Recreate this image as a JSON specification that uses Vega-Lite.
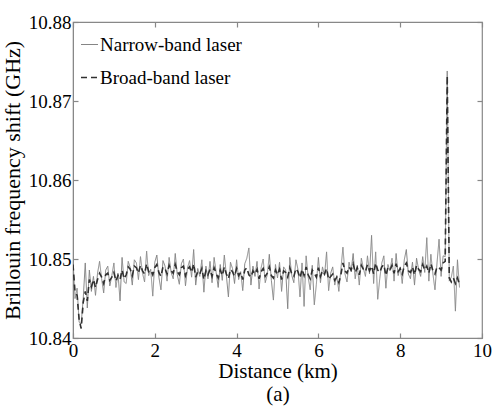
{
"$schema": "https://vega.github.io/schema/vega-lite/v6.json",
"width": 409,
"height": 316,
"autosize": "none",
"padding": {"left": 73, "top": 22, "right": 15, "bottom": 68},
"background": "white",
"config": {
  "font": "Times New Roman, Liberation Serif, serif",
  "view": {"stroke": "#888888", "strokeWidth": 1.2},
  "legend": {"labelFont": "Times New Roman, Liberation Serif, serif"},
  "axis": {"labelFont": "Times New Roman, Liberation Serif, serif", "titleFont": "Times New Roman, Liberation Serif, serif", "labelFontSize": 19, "titleFontSize": 21, "titleFontWeight": "normal", "labelColor": "black", "titleColor": "black", "domainColor": "#888888", "tickColor": "#888888", "tickSize": -5, "tickWidth": 1.2, "grid": false, "labelOverlap": false, "labelFlush": false}
},
"data": {"values": [
{"d":0.00,"n":10.8498,"b":10.8493},{"d":0.05,"n":10.8450,"b":10.8458},{"d":0.10,"n":10.8463,"b":10.8454},{"d":0.15,"n":10.8420,"b":10.8423},{"d":0.20,"n":10.8418,"b":10.8412},
{"d":0.25,"n":10.8450,"b":10.8445},{"d":0.30,"n":10.8495,"b":10.8459},{"d":0.35,"n":10.8438,"b":10.8447},{"d":0.40,"n":10.8486,"b":10.8474},{"d":0.45,"n":10.8459,"b":10.8465},
{"d":0.50,"n":10.8478,"b":10.8474},{"d":0.55,"n":10.8454,"b":10.8464},{"d":0.60,"n":10.8482,"b":10.8474},{"d":0.65,"n":10.8497,"b":10.8482},{"d":0.70,"n":10.8475,"b":10.8477},
{"d":0.75,"n":10.8457,"b":10.8469},{"d":0.80,"n":10.8486,"b":10.8480},{"d":0.85,"n":10.8491,"b":10.8482},{"d":0.90,"n":10.8466,"b":10.8473},{"d":0.95,"n":10.8479,"b":10.8477},
{"d":1.00,"n":10.8495,"b":10.8483},{"d":1.05,"n":10.8464,"b":10.8472},{"d":1.10,"n":10.8482,"b":10.8479},{"d":1.15,"n":10.8447,"b":10.8474},{"d":1.20,"n":10.8502,"b":10.8486},
{"d":1.25,"n":10.8471,"b":10.8475},{"d":1.30,"n":10.8469,"b":10.8480},{"d":1.35,"n":10.8497,"b":10.8490},{"d":1.40,"n":10.8489,"b":10.8487},{"d":1.45,"n":10.8467,"b":10.8479},
{"d":1.50,"n":10.8499,"b":10.8491},{"d":1.55,"n":10.8495,"b":10.8489},{"d":1.60,"n":10.8474,"b":10.8482},{"d":1.65,"n":10.8503,"b":10.8492},{"d":1.70,"n":10.8482,"b":10.8485},
{"d":1.75,"n":10.8471,"b":10.8481},{"d":1.80,"n":10.8510,"b":10.8494},{"d":1.85,"n":10.8479,"b":10.8484},{"d":1.90,"n":10.8487,"b":10.8486},{"d":1.95,"n":10.8453,"b":10.8480},
{"d":2.00,"n":10.8496,"b":10.8489},{"d":2.05,"n":10.8505,"b":10.8493},{"d":2.10,"n":10.8477,"b":10.8483},{"d":2.15,"n":10.8461,"b":10.8478},{"d":2.20,"n":10.8498,"b":10.8490},
{"d":2.25,"n":10.8491,"b":10.8488},{"d":2.30,"n":10.8472,"b":10.8481},{"d":2.35,"n":10.8502,"b":10.8492},{"d":2.40,"n":10.8483,"b":10.8485},{"d":2.45,"n":10.8475,"b":10.8482},
{"d":2.50,"n":10.8507,"b":10.8493},{"d":2.55,"n":10.8480,"b":10.8484},{"d":2.60,"n":10.8468,"b":10.8480},{"d":2.65,"n":10.8494,"b":10.8489},{"d":2.70,"n":10.8500,"b":10.8491},
{"d":2.75,"n":10.8466,"b":10.8479},{"d":2.80,"n":10.8489,"b":10.8487},{"d":2.85,"n":10.8498,"b":10.8490},{"d":2.90,"n":10.8477,"b":10.8483},{"d":2.95,"n":10.8512,"b":10.8494},
{"d":3.00,"n":10.8467,"b":10.8477},{"d":3.05,"n":10.8488,"b":10.8484},{"d":3.10,"n":10.8478,"b":10.8481},{"d":3.15,"n":10.8499,"b":10.8488},{"d":3.20,"n":10.8458,"b":10.8474},
{"d":3.25,"n":10.8491,"b":10.8485},{"d":3.30,"n":10.8475,"b":10.8480},{"d":3.35,"n":10.8497,"b":10.8487},{"d":3.40,"n":10.8470,"b":10.8478},{"d":3.45,"n":10.8502,"b":10.8489},
{"d":3.50,"n":10.8483,"b":10.8482},{"d":3.55,"n":10.8464,"b":10.8476},{"d":3.60,"n":10.8493,"b":10.8486},{"d":3.65,"n":10.8473,"b":10.8479},{"d":3.70,"n":10.8505,"b":10.8490},
{"d":3.75,"n":10.8479,"b":10.8481},{"d":3.80,"n":10.8452,"b":10.8475},{"d":3.85,"n":10.8496,"b":10.8487},{"d":3.90,"n":10.8488,"b":10.8484},{"d":3.95,"n":10.8469,"b":10.8478},
{"d":4.00,"n":10.8499,"b":10.8488},{"d":4.05,"n":10.8474,"b":10.8479},{"d":4.10,"n":10.8484,"b":10.8483},{"d":4.15,"n":10.8460,"b":10.8474},{"d":4.20,"n":10.8494,"b":10.8486},
{"d":4.25,"n":10.8501,"b":10.8489},{"d":4.30,"n":10.8514,"b":10.8480},{"d":4.35,"n":10.8467,"b":10.8477},{"d":4.40,"n":10.8491,"b":10.8485},{"d":4.45,"n":10.8478,"b":10.8481},
{"d":4.50,"n":10.8497,"b":10.8487},{"d":4.55,"n":10.8462,"b":10.8475},{"d":4.60,"n":10.8489,"b":10.8484},{"d":4.65,"n":10.8500,"b":10.8488},{"d":4.70,"n":10.8470,"b":10.8478},
{"d":4.75,"n":10.8480,"b":10.8482},{"d":4.80,"n":10.8506,"b":10.8490},{"d":4.85,"n":10.8473,"b":10.8479},{"d":4.90,"n":10.8448,"b":10.8476},{"d":4.95,"n":10.8493,"b":10.8486},
{"d":5.00,"n":10.8476,"b":10.8480},{"d":5.05,"n":10.8496,"b":10.8487},{"d":5.10,"n":10.8459,"b":10.8474},{"d":5.15,"n":10.8490,"b":10.8485},{"d":5.20,"n":10.8486,"b":10.8483},
{"d":5.25,"n":10.8437,"b":10.8477},{"d":5.30,"n":10.8502,"b":10.8489},{"d":5.35,"n":10.8479,"b":10.8481},{"d":5.40,"n":10.8470,"b":10.8478},{"d":5.45,"n":10.8499,"b":10.8488},
{"d":5.50,"n":10.8487,"b":10.8484},{"d":5.55,"n":10.8452,"b":10.8476},{"d":5.60,"n":10.8495,"b":10.8487},{"d":5.65,"n":10.8440,"b":10.8479},{"d":5.70,"n":10.8504,"b":10.8490},
{"d":5.75,"n":10.8477,"b":10.8480},{"d":5.80,"n":10.8461,"b":10.8475},{"d":5.85,"n":10.8492,"b":10.8486},{"d":5.90,"n":10.8442,"b":10.8482},{"d":5.95,"n":10.8468,"b":10.8477},
{"d":6.00,"n":10.8502,"b":10.8489},{"d":6.05,"n":10.8470,"b":10.8478},{"d":6.10,"n":10.8490,"b":10.8485},{"d":6.15,"n":10.8479,"b":10.8481},{"d":6.20,"n":10.8509,"b":10.8488},
{"d":6.25,"n":10.8460,"b":10.8474},{"d":6.30,"n":10.8482,"b":10.8478},{"d":6.35,"n":10.8490,"b":10.8481},{"d":6.40,"n":10.8467,"b":10.8473},{"d":6.45,"n":10.8479,"b":10.8477},
{"d":6.50,"n":10.8459,"b":10.8470},{"d":6.55,"n":10.8487,"b":10.8480},{"d":6.60,"n":10.8515,"b":10.8495},{"d":6.65,"n":10.8481,"b":10.8485},{"d":6.70,"n":10.8471,"b":10.8482},
{"d":6.75,"n":10.8496,"b":10.8490},{"d":6.80,"n":10.8484,"b":10.8486},{"d":6.85,"n":10.8507,"b":10.8494},{"d":6.90,"n":10.8475,"b":10.8483},{"d":6.95,"n":10.8492,"b":10.8489},
{"d":7.00,"n":10.8467,"b":10.8480},{"d":7.05,"n":10.8501,"b":10.8492},{"d":7.10,"n":10.8488,"b":10.8487},{"d":7.15,"n":10.8478,"b":10.8484},{"d":7.20,"n":10.8504,"b":10.8493},
{"d":7.25,"n":10.8481,"b":10.8485},{"d":7.30,"n":10.8530,"b":10.8491},{"d":7.35,"n":10.8469,"b":10.8481},{"d":7.40,"n":10.8509,"b":10.8495},{"d":7.45,"n":10.8449,"b":10.8486},
{"d":7.50,"n":10.8475,"b":10.8483},{"d":7.55,"n":10.8495,"b":10.8490},{"d":7.60,"n":10.8504,"b":10.8493},{"d":7.65,"n":10.8463,"b":10.8479},{"d":7.70,"n":10.8493,"b":10.8489},
{"d":7.75,"n":10.8485,"b":10.8486},{"d":7.80,"n":10.8501,"b":10.8492},{"d":7.85,"n":10.8472,"b":10.8482},{"d":7.90,"n":10.8507,"b":10.8494},{"d":7.95,"n":10.8479,"b":10.8484},
{"d":8.00,"n":10.8490,"b":10.8488},{"d":8.05,"n":10.8469,"b":10.8481},{"d":8.10,"n":10.8499,"b":10.8491},{"d":8.15,"n":10.8512,"b":10.8495},{"d":8.20,"n":10.8481,"b":10.8485},
{"d":8.25,"n":10.8475,"b":10.8483},{"d":8.30,"n":10.8496,"b":10.8490},{"d":8.35,"n":10.8467,"b":10.8480},{"d":8.40,"n":10.8501,"b":10.8492},{"d":8.45,"n":10.8487,"b":10.8487},
{"d":8.50,"n":10.8478,"b":10.8484},{"d":8.55,"n":10.8503,"b":10.8493},{"d":8.60,"n":10.8483,"b":10.8486},{"d":8.65,"n":10.8527,"b":10.8491},{"d":8.70,"n":10.8472,"b":10.8482},
{"d":8.75,"n":10.8506,"b":10.8494},{"d":8.80,"n":10.8481,"b":10.8485},{"d":8.85,"n":10.8461,"b":10.8481},{"d":8.90,"n":10.8495,"b":10.8490},{"d":8.95,"n":10.8525,"b":10.8489},
{"d":9.00,"n":10.8478,"b":10.8486},{"d":9.05,"n":10.8504,"b":10.8495},{"d":9.10,"n":10.8503,"b":10.8497},{"d":9.15,"n":10.8738,"b":10.8732},{"d":9.20,"n":10.8472,"b":10.8476},
{"d":9.25,"n":10.8477,"b":10.8471},{"d":9.30,"n":10.8491,"b":10.8476},{"d":9.35,"n":10.8434,"b":10.8469},{"d":9.40,"n":10.8499,"b":10.8476},{"d":9.45,"n":10.8464,"b":10.8468}
]},
"transform": [{"fold": ["n", "b"], "as": ["series", "value"]}],
"layer": [
  {
    "mark": {"type": "line", "clip": true},
    "encoding": {
      "x": {"field": "d", "type": "quantitative", "scale": {"domain": [0, 10], "nice": false}, "axis": {"orient": "bottom", "values": [0, 2, 4, 6, 8, 10], "title": ["Distance (km)", "(a)"], "titlePadding": 0, "labelPadding": 8, "titleLineHeight": 23}},
      "y": {"field": "value", "type": "quantitative", "scale": {"domain": [10.84, 10.88], "nice": false, "zero": false}, "axis": {"orient": "left", "values": [10.84, 10.85, 10.86, 10.87, 10.88], "format": ".2f", "title": "Brillouin frequency shift (GHz)", "titleFontSize": 22, "labelPadding": 7, "titlePadding": 4}},
      "color": {"field": "series", "type": "nominal", "sort": ["n", "b"], "scale": {"domain": ["n", "b"], "range": ["#858585", "#303030"]},
        "legend": {"title": null, "orient": "none", "legendX": 7, "legendY": 13, "symbolType": "stroke", "symbolSize": 289, "labelFontSize": 19, "labelColor": "black", "labelOffset": 1, "rowPadding": 13, "padding": 0, "labelExpr": "datum.label == 'n' ? 'Narrow-band laser' : 'Broad-band laser'"}},
      "strokeDash": {"field": "series", "type": "nominal", "sort": ["n", "b"], "scale": {"domain": ["n", "b"], "range": [[1, 0], [6, 4]]}, "legend": {"title": null, "orient": "none", "legendX": 7, "legendY": 13, "symbolType": "stroke", "symbolSize": 289, "labelFontSize": 19, "labelOffset": 1, "rowPadding": 13, "padding": 0, "labelExpr": "datum.label == 'n' ? 'Narrow-band laser' : 'Broad-band laser'"}},
      "strokeWidth": {"field": "series", "type": "nominal", "sort": ["n", "b"], "scale": {"domain": ["n", "b"], "range": [1, 1.6]}, "legend": {"title": null, "orient": "none", "legendX": 7, "legendY": 13, "symbolType": "stroke", "symbolSize": 289, "labelFontSize": 19, "labelOffset": 1, "rowPadding": 13, "padding": 0, "labelExpr": "datum.label == 'n' ? 'Narrow-band laser' : 'Broad-band laser'"}}
    }
  },
  {
    "mark": {"type": "line", "opacity": 0},
    "encoding": {
      "x": {"field": "d", "type": "quantitative", "scale": {"domain": [0, 10], "nice": false}, "axis": {"orient": "top", "values": [0, 2, 4, 6, 8, 10], "labels": false, "title": null, "domain": false}},
      "y": {"field": "value", "type": "quantitative", "scale": {"domain": [10.84, 10.88], "nice": false, "zero": false}, "axis": {"orient": "right", "values": [10.84, 10.85, 10.86, 10.87, 10.88], "labels": false, "title": null, "domain": false}},
      "detail": {"field": "series"}
    }
  }
],
"resolve": {"axis": {"x": "independent", "y": "independent"}}
}
